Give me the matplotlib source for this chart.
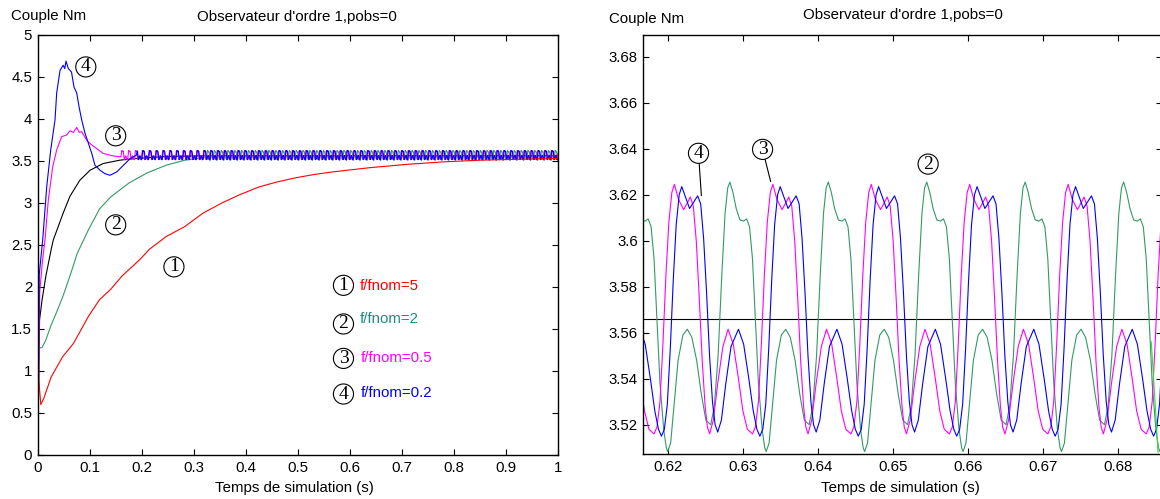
import numpy as np
import matplotlib.pyplot as plt

plt.rcParams['font.family'] = ['Liberation Sans', 'DejaVu Sans']

W, H = 1160, 499

# start-up transients (time in s, torque in Nm)
red_t = [0, 0.0008, 0.002, 0.006, 0.012, 0.026, 0.048, 0.069, 0.0975, 0.119, 0.140, 0.162,
         0.176, 0.197, 0.215, 0.247, 0.283, 0.318, 0.354, 0.389, 0.425, 0.460, 0.496, 0.532,
         0.567, 0.638, 0.710, 0.781, 0.852, 0.923, 1.0]
red_v = [0, 1.25, 0.9, 0.6, 0.68, 0.93, 1.17, 1.33, 1.65, 1.85, 1.97, 2.13,
         2.21, 2.33, 2.45, 2.60, 2.72, 2.88, 3.00, 3.10, 3.19, 3.25, 3.30, 3.34,
         3.37, 3.42, 3.46, 3.49, 3.51, 3.52, 3.53]

green_tt = [0, 0.002, 0.0085, 0.0157, 0.026, 0.033, 0.048, 0.062, 0.076, 0.0975, 0.119,
            0.140, 0.176, 0.211, 0.247, 0.283, 0.318]
green_tv = [0, 1.27, 1.28, 1.37, 1.55, 1.65, 1.88, 2.13, 2.40, 2.68, 2.93,
            3.07, 3.24, 3.36, 3.45, 3.51, 3.54]

pink_tt = [0, 0.004, 0.009, 0.014, 0.0205, 0.0288, 0.0365, 0.046, 0.0558, 0.062, 0.0685,
           0.075, 0.080, 0.0846, 0.094, 0.104, 0.113, 0.126, 0.145, 0.160]
pink_tv = [0, 1.95, 2.30, 2.56, 3.04, 3.43, 3.63, 3.79, 3.81, 3.86, 3.84,
           3.90, 3.84, 3.85, 3.75, 3.69, 3.65, 3.59, 3.56, 3.55]

blue_tt = [0, 0.003, 0.0096, 0.0173, 0.025, 0.0333, 0.0365, 0.043, 0.049, 0.052, 0.0544,
           0.0589, 0.065, 0.0698, 0.075, 0.080, 0.0846, 0.091, 0.0954, 0.104, 0.110,
           0.120, 0.129, 0.139, 0.152, 0.165, 0.178, 0.190]
blue_tv = [0, 2.15, 2.56, 3.19, 3.63, 3.99, 4.31, 4.58, 4.64, 4.60, 4.69,
           4.60, 4.56, 4.38, 4.31, 4.13, 3.99, 3.83, 3.75, 3.59, 3.45,
           3.39, 3.35, 3.33, 3.37, 3.45, 3.53, 3.57]

ref_t = [0, 0.0036, 0.0085, 0.0157, 0.026, 0.030, 0.049, 0.062, 0.081, 0.1006, 0.126,
         0.158, 0.19, 0.25, 0.35, 1.0]
ref_v = [0, 1.61, 1.85, 2.13, 2.45, 2.56, 2.88, 3.08, 3.27, 3.39, 3.47,
         3.51, 3.53, 3.555, 3.564, 3.5661]

# steady-state ripple: one period (offset in ms, torque)
period = 0.01311
pink_t0 = 0.61818
pink_ms = [0.00, 0.39, 0.79, 1.18, 1.58, 1.97, 2.37, 2.71, 3.25, 3.94, 4.44, 4.83, 5.23, 5.62,
           6.02, 6.41, 6.80, 7.10, 7.40, 7.89, 8.48, 9.17, 9.86, 10.55, 11.24, 11.83, 12.43]
pink_rip = [3.516, 3.519, 3.530, 3.555, 3.585, 3.608, 3.621, 3.6245, 3.618, 3.6135, 3.6165,
            3.619, 3.615, 3.600, 3.575, 3.548, 3.528, 3.519, 3.516, 3.522, 3.538, 3.554,
            3.5615, 3.555, 3.540, 3.526, 3.518]

blue_t0 = 0.61916
blue_ms = [0.00, 0.39, 0.79, 1.18, 1.58, 1.97, 2.37, 2.71, 3.21, 3.75, 4.34, 4.83, 5.23, 5.62,
           6.02, 6.41, 6.80, 7.15, 7.50, 7.99, 8.58, 9.27, 10.26, 10.95, 11.64, 12.23, 12.72]
blue_rip = [3.515, 3.518, 3.529, 3.553, 3.583, 3.607, 3.620, 3.6235, 3.619, 3.614, 3.617,
            3.6195, 3.616, 3.601, 3.577, 3.550, 3.530, 3.520, 3.5168, 3.522, 3.538, 3.554,
            3.5615, 3.555, 3.540, 3.526, 3.518]

green_t0 = 0.62
green_ms = [0.00, 0.39, 0.89, 1.38, 2.02, 2.61, 3.21, 3.85, 4.49, 5.08, 5.72, 6.21, 6.71, 7.20,
            7.64, 7.99, 8.28, 8.68, 9.12, 9.62, 10.11, 10.50, 10.90, 11.29, 11.69, 12.08,
            12.57, 12.92]
green_rip = [3.5083, 3.512, 3.530, 3.548, 3.559, 3.5615, 3.558, 3.548, 3.533, 3.522, 3.520,
             3.528, 3.550, 3.585, 3.612, 3.623, 3.6255, 3.621, 3.614, 3.609, 3.6085, 3.6095,
             3.606, 3.592, 3.565, 3.538, 3.518, 3.510]

lime_t = [0.6844, 0.6849, 0.6853]
lime_v = [3.556, 3.530, 3.508]

xticks_l = [0, 0.1, 0.2, 0.3, 0.4, 0.5, 0.6, 0.7, 0.8, 0.9, 1]
xlabels_l = ['0', '0.1', '0.2', '0.3', '0.4', '0.5', '0.6', '0.7', '0.8', '0.9', '1']
yticks_l = [0, 0.5, 1, 1.5, 2, 2.5, 3, 3.5, 4, 4.5, 5]
ylabels_l = ['0', '0.5', '1', '1.5', '2', '2.5', '3', '3.5', '4', '4.5', '5']
xticks_r = [0.62, 0.63, 0.64, 0.65, 0.66, 0.67, 0.68]
xlabels_r = ['0.62', '0.63', '0.64', '0.65', '0.66', '0.67', '0.68']
yticks_r = [3.52, 3.54, 3.56, 3.58, 3.60, 3.62, 3.64, 3.66, 3.68]
ylabels_r = ['3.52', '3.54', '3.56', '3.58', '3.6', '3.62', '3.64', '3.66', '3.68']

legend_labels = ['f/fnom=5', 'f/fnom=2', 'f/fnom=0.5', 'f/fnom=0.2']

C_RED, C_GREEN, C_PINK, C_BLUE = '#ff0000', '#339966', '#ff00ff', '#0000ff'
C_TEAL = '#17907f'
FS = 10.8


def steady(t0, offs_ms, vals, t_from, t_to):
    offs = np.asarray(offs_ms) / 1000.0
    k0 = int(np.floor((t_from - t0) / period)) - 1
    k1 = int(np.ceil((t_to - t0) / period)) + 1
    t = np.concatenate([t0 + k * period + offs for k in range(k0, k1)])
    v = np.tile(np.asarray(vals), k1 - k0)
    keep = (t >= t_from) & (t <= t_to)
    return t[keep], v[keep]


def full_curve(tt, tv, t0, offs, rip, t_to=1.0):
    ts, vs = steady(t0, offs, rip, tt[-1] + 0.001, t_to)
    return np.concatenate([tt, ts]), np.concatenate([tv, vs])


def circled(ax, x, y, s, xy=None):
    kw = dict(fontsize=14, family=['Liberation Serif', 'DejaVu Serif'], ha='center',
              va='center', bbox=dict(boxstyle='circle,pad=0.08', fc='none', ec='black', lw=0.8))
    if xy is None:
        ax.text(x, y, s, **kw)
    else:
        ax.annotate(s, xy=xy, xytext=(x, y), arrowprops=dict(arrowstyle='-', lw=0.8,
                    color='black', shrinkA=0, shrinkB=0), **kw)


def style(ax):
    ax.tick_params(direction='in', top=True, right=True, length=4.5, width=0.8,
                   labelsize=FS, pad=4, colors='black')
    for sp in ax.spines.values():
        sp.set_linewidth(1.0)


fig = plt.figure(figsize=(W / 100, H / 100), dpi=100)
axL = fig.add_axes([37.7 / W, 1 - 455 / H, 520 / W, 420 / H])
axR = fig.add_axes([643.3 / W, 1 - 454 / H, (1162 - 643.3) / W, 419 / H])

# ---- left panel
lw = 0.8
axL.plot(ref_t, ref_v, color='black', lw=lw)
t, v = full_curve(green_tt, green_tv, green_t0, green_ms, green_rip)
axL.plot(t, v, color=C_GREEN, lw=lw)
t, v = full_curve(pink_tt, pink_tv, pink_t0, pink_ms, pink_rip)
axL.plot(t, v, color=C_PINK, lw=lw)
t, v = full_curve(blue_tt, blue_tv, blue_t0, blue_ms, blue_rip)
axL.plot(t, v, color=C_BLUE, lw=lw)
axL.plot(red_t, red_v, color=C_RED, lw=lw)

axL.set_xlim(0, 1)
axL.set_ylim(0, 5)
axL.set_xticks(xticks_l, xlabels_l)
axL.set_yticks(yticks_l, ylabels_l)
style(axL)

circled(axL, 0.0925, 4.62, '4')
circled(axL, 0.150, 3.80, '3')
circled(axL, 0.150, 2.74, '2')
circled(axL, 0.262, 2.24, '1')
leg_y = [2.02, 1.56, 1.15, 0.726]
txt_y = [2.01, 1.62, 1.155, 0.742]
leg_c = [C_RED, C_TEAL, C_PINK, C_BLUE]
for i, lab in enumerate(legend_labels):
    circled(axL, 0.588, leg_y[i], str(i + 1))
    axL.text(0.619 if i < 2 else 0.621, txt_y[i], lab, color=leg_c[i], fontsize=FS,
             ha='left', va='center')

# ---- right panel (zoom on the steady state)
xr = (0.616747, 0.685827)
axR.axhline(ref_v[-1], color='black', lw=lw)
for t0, offs, rip, col in [(green_t0, green_ms, green_rip, C_GREEN),
                           (pink_t0, pink_ms, pink_rip, C_PINK),
                           (blue_t0, blue_ms, blue_rip, C_BLUE)]:
    t, v = steady(t0, offs, rip, xr[0] - 0.002, xr[1] + 0.002)
    axR.plot(t, v, color=col, lw=lw)
axR.plot(lime_t, lime_v, color='#33dd33', lw=lw)

axR.set_xlim(*xr)
axR.set_ylim(3.50726, 3.68943)
axR.set_xticks(xticks_r, xlabels_r)
axR.set_yticks(yticks_r, ylabels_r)
style(axR)

circled(axR, 0.6241, 3.638, '4', xy=(0.62448, 3.6196))
circled(axR, 0.63263, 3.6397, '3', xy=(0.63371, 3.6257))
circled(axR, 0.65468, 3.6333, '2')

# ---- titles and labels
def ftext(x, y, s, **kw):
    fig.text(x / W, 1 - y / H, s, fontsize=FS, ha='center', va='center', **kw)

ftext(49, 16, 'Couple Nm')
ftext(297, 16.5, "Observateur d'ordre 1,pobs=0")
ftext(294, 488, 'Temps de simulation (s)')
ftext(647, 19, 'Couple Nm')
ftext(903, 15, "Observateur d'ordre 1,pobs=0")
ftext(900, 488, 'Temps de simulation (s)')

fig.savefig('out.png', dpi=100)
